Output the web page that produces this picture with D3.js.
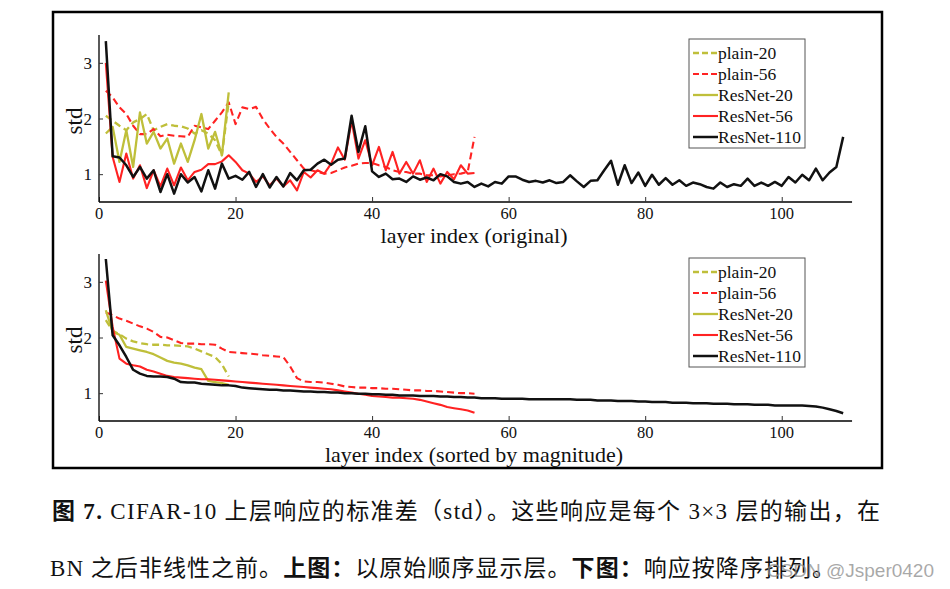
<!DOCTYPE html>
<html>
<head>
<meta charset="utf-8">
<script src="https://cdn.jsdelivr.net/npm/d3@7"></script>
<style>
  body { margin: 0; background: #fff; }
  svg { display: block; }
  text { font-family: "Liberation Serif", "Noto Sans CJK SC", serif; fill: #111; }
</style>
</head>
<body>
<svg id="chart" width="950" height="589"></svg>
<script>
// series names, in legend order
var seriesNames = ["plain-20", "plain-56", "ResNet-20", "ResNet-56", "ResNet-110"];
var xTicks = [0, 20, 40, 60, 80, 100];
var yTicks = [1, 2, 3];

// top panel: std per layer, original order
var plain20 = [2.05, 1.96, 1.87, 1.79, 1.93, 1.99, 2.08, 1.79, 1.85, 1.90, 1.87, 1.86, 1.82, 1.73, 1.79, 1.73, 1.61, 1.34, 2.30];
var resnet20 = [1.73, 1.85, 1.22, 1.79, 1.13, 2.11, 1.55, 1.76, 1.46, 1.64, 1.19, 1.55, 1.22, 1.61, 2.08, 1.46, 1.76, 1.34, 2.47];
var plain56 = [2.50, 2.38, 2.20, 2.08, 1.87, 1.72, 1.72, 1.81, 1.68, 1.71, 1.69, 1.68, 1.67, 1.87, 1.84, 1.81, 1.96, 2.11, 2.29, 1.90,
  2.20, 2.17, 2.21, 1.99, 1.82, 1.67, 1.55, 1.40, 1.25, 1.10, 1.07, 1.04, 1.01, 1.02, 1.07, 1.12, 1.15, 1.19, 1.20, 1.20,
  1.16, 1.13, 1.07, 1.04, 1.04, 1.01, 1.01, 0.98, 0.98, 0.96, 0.98, 1.00, 1.01, 1.04, 1.67];
var resnet56 = [3.00, 1.31, 0.86, 1.37, 0.92, 1.16, 0.75, 1.07, 0.78, 1.10, 0.80, 1.12, 0.89, 1.04, 1.08, 1.18, 1.18, 1.23, 1.34, 1.22,
  1.07, 1.01, 0.86, 0.96, 0.80, 0.92, 0.78, 0.89, 0.71, 1.04, 0.94, 1.07, 1.01, 1.19, 1.48, 1.26, 1.96, 1.28, 1.61, 1.16,
  1.49, 1.07, 1.40, 1.01, 1.22, 1.01, 1.25, 0.86, 1.10, 0.83, 1.04, 0.91, 1.16, 1.01, 1.02];
var resnet110 = [3.39, 1.32, 1.30, 1.16, 0.95, 1.13, 0.92, 1.07, 0.68, 1.00, 0.65, 1.00, 0.85, 0.95, 0.69, 1.07, 0.74, 1.19, 0.92, 0.97,
  0.90, 1.04, 0.77, 1.00, 0.76, 0.95, 0.78, 1.02, 0.89, 1.07, 1.08, 1.19, 1.26, 1.17, 1.26, 1.28, 2.05, 1.40, 1.86, 1.05,
  0.95, 1.01, 0.91, 0.92, 0.86, 0.96, 0.90, 0.94, 0.89, 1.00, 0.96, 0.86, 0.83, 0.86, 0.77, 0.83, 0.78, 0.86, 0.83, 0.96,
  0.96, 0.90, 0.86, 0.88, 0.85, 0.89, 0.84, 0.86, 0.98, 0.87, 0.77, 0.88, 0.89, 1.07, 1.24, 0.81, 1.16, 0.84, 1.03, 0.79,
  0.99, 0.81, 0.93, 0.81, 0.89, 0.79, 0.85, 0.82, 0.77, 0.74, 0.85, 0.77, 0.82, 0.79, 0.92, 0.79, 0.85, 0.79, 0.86, 0.79,
  0.95, 0.85, 0.99, 0.89, 1.10, 0.89, 1.03, 1.13, 1.67];

// bottom panel: std sorted by magnitude
var plain20Sorted = [2.31, 2.12, 2.06, 1.98, 1.93, 1.90, 1.88, 1.87, 1.87, 1.86, 1.86, 1.85, 1.84, 1.80, 1.75, 1.70, 1.65, 1.52, 1.30];
var resnet20Sorted = [2.49, 2.10, 2.05, 1.83, 1.80, 1.77, 1.74, 1.70, 1.64, 1.58, 1.55, 1.53, 1.50, 1.46, 1.43, 1.22, 1.20, 1.18, 1.15];
var plain56Sorted = [2.45, 2.40, 2.34, 2.30, 2.25, 2.20, 2.16, 2.10, 2.01, 2.00, 1.95, 1.90, 1.89, 1.89, 1.88, 1.88, 1.87, 1.80, 1.74, 1.73,
  1.72, 1.71, 1.70, 1.68, 1.67, 1.66, 1.65, 1.48, 1.27, 1.21, 1.20, 1.20, 1.19, 1.17, 1.15, 1.12, 1.11, 1.10, 1.10, 1.09,
  1.09, 1.08, 1.08, 1.07, 1.06, 1.05, 1.05, 1.04, 1.04, 1.03, 1.02, 1.01, 1.00, 1.00, 0.99];
var resnet56Sorted = [3.02, 2.19, 1.62, 1.53, 1.50, 1.48, 1.42, 1.39, 1.35, 1.31, 1.29, 1.28, 1.27, 1.26, 1.25, 1.25, 1.24, 1.23, 1.22, 1.21,
  1.20, 1.19, 1.18, 1.17, 1.16, 1.15, 1.14, 1.13, 1.12, 1.11, 1.10, 1.09, 1.08, 1.07, 1.05, 1.03, 1.01, 0.99, 0.97, 0.95,
  0.94, 0.93, 0.92, 0.92, 0.91, 0.90, 0.88, 0.85, 0.82, 0.79, 0.75, 0.73, 0.71, 0.69, 0.65];
var resnet110Sorted = [3.41, 2.04, 1.86, 1.65, 1.42, 1.35, 1.31, 1.30, 1.30, 1.29, 1.26, 1.20, 1.19, 1.19, 1.17, 1.16, 1.15, 1.14, 1.14, 1.13,
  1.10, 1.09, 1.08, 1.07, 1.06, 1.06, 1.05, 1.05, 1.04, 1.03, 1.03, 1.02, 1.02, 1.01, 1.01, 1.00, 1.00, 0.99, 0.99, 0.98,
  0.98, 0.97, 0.97, 0.96, 0.96, 0.96, 0.95, 0.95, 0.95, 0.94, 0.94, 0.93, 0.93, 0.92, 0.92, 0.91, 0.91, 0.91, 0.90, 0.90,
  0.90, 0.90, 0.89, 0.89, 0.89, 0.89, 0.89, 0.89, 0.89, 0.88, 0.88, 0.88, 0.87, 0.87, 0.87, 0.86, 0.86, 0.86, 0.85, 0.85,
  0.84, 0.84, 0.84, 0.83, 0.83, 0.83, 0.82, 0.82, 0.82, 0.81, 0.81, 0.81, 0.80, 0.80, 0.80, 0.79, 0.79, 0.79, 0.78, 0.78,
  0.78, 0.78, 0.78, 0.77, 0.76, 0.74, 0.71, 0.68, 0.64];

var olive = "#bfbf3a", red = "#ff2222", black = "#111";
var styles = {
  "plain-20": {color: olive, dash: "7,4", width: 2.3},
  "plain-56": {color: red, dash: "7,4", width: 2.1},
  "ResNet-20": {color: olive, dash: null, width: 2.3},
  "ResNet-56": {color: red, dash: null, width: 2.1},
  "ResNet-110": {color: black, dash: null, width: 2.5}
};

var svg = d3.select("#chart");

// outer frame
svg.append("rect")
  .attr("x", 53).attr("y", 12).attr("width", 829).attr("height", 456)
  .attr("fill", "none").attr("stroke", "#000").attr("stroke-width", 2.5);

function drawPanel(top, title, data) {
  var x = d3.scaleLinear().domain([0, 110]).range([99, 850]);
  var y = d3.scaleLinear().domain([0.5, 3.5]).range([top + 167, top]);
  var g = svg.append("g");

  var xAxis = g.append("g").attr("transform", "translate(0," + y(0.5) + ")")
    .call(d3.axisTop(x).tickValues(xTicks).tickSize(5).tickFormat(""));
  xAxis.select(".domain").attr("d", "M" + x(0) + ",0H" + x(110.3)).attr("stroke-width", 1.3);
  xAxis.selectAll(".tick line").attr("stroke-width", 1).attr("stroke", "#333");
  g.selectAll(".xlab").data(xTicks).enter().append("text")
    .attr("x", function(d) { return x(d); })
    .attr("y", y(0.5) + 16.5)
    .attr("text-anchor", "middle").style("font-size", "16.5px")
    .text(function(d) { return d; });

  var yAxis = g.append("g").attr("transform", "translate(" + x(0) + ",0)")
    .call(d3.axisRight(y).tickValues(yTicks).tickSize(4).tickFormat(""));
  yAxis.select(".domain").attr("d", "M0," + y(0.5) + "V" + y(3.5)).attr("stroke-width", 1.3);
  yAxis.selectAll(".tick line").attr("stroke", "#333");
  g.selectAll(".ylab").data(yTicks).enter().append("text")
    .attr("x", x(0) - 7)
    .attr("y", function(d) { return y(d) + 6; })
    .attr("text-anchor", "end").style("font-size", "17px")
    .text(function(d) { return d; });

  g.append("text")
    .attr("transform", "translate(82," + (top + 86) + ") rotate(-90)")
    .attr("text-anchor", "middle").style("font-size", "23px")
    .text("std");

  g.append("text")
    .attr("x", 474).attr("y", y(0.5) + 40.5)
    .attr("text-anchor", "middle").style("font-size", "22px")
    .text(title);

  var line = d3.line()
    .x(function(d, i) { return x(i + 1); })
    .y(function(d) { return y(d); });

  seriesNames.forEach(function(name) {
    var s = styles[name];
    g.append("path")
      .datum(data[name])
      .attr("fill", "none")
      .attr("stroke", s.color)
      .attr("stroke-width", s.width)
      .attr("stroke-dasharray", s.dash)
      .attr("stroke-linejoin", "round")
      .attr("d", line);
  });

  // legend
  var lg = g.append("g").attr("transform", "translate(689," + (top + 4) + ")");
  lg.append("rect").attr("width", 116).attr("height", 109)
    .attr("fill", "#fff").attr("stroke", "#555").attr("stroke-width", 1);
  seriesNames.forEach(function(name, i) {
    var s = styles[name];
    var ly = 14 + i * 21;
    lg.append("line")
      .attr("x1", 4).attr("x2", 29).attr("y1", ly).attr("y2", ly)
      .attr("stroke", s.color).attr("stroke-width", s.width)
      .attr("stroke-dasharray", s.dash ? "6,3" : null);
    lg.append("text").attr("x", 29).attr("y", ly + 5.5)
      .style("font-size", "17.5px").text(name);
  });
}

drawPanel(35, "layer index (original)", {
  "plain-20": plain20, "plain-56": plain56, "ResNet-20": resnet20,
  "ResNet-56": resnet56, "ResNet-110": resnet110
});
drawPanel(254, "layer index (sorted by magnitude)", {
  "plain-20": plain20Sorted, "plain-56": plain56Sorted, "ResNet-20": resnet20Sorted,
  "ResNet-56": resnet56Sorted, "ResNet-110": resnet110Sorted
});

// caption
var cap1 = svg.append("text").attr("x", 52).attr("y", 519)
  .attr("textLength", 828).attr("lengthAdjust", "spacing")
  .style("font-size", "23px");
cap1.append("tspan").style("font-weight", "bold").text("图 7.");
cap1.append("tspan").text(" CIFAR-10 上层响应的标准差（std）。这些响应是每个 3×3 层的输出，在");

var cap2 = svg.append("text").attr("x", 50).attr("y", 576)
  .attr("textLength", 785).attr("lengthAdjust", "spacing")
  .style("font-size", "23px");
cap2.append("tspan").text("BN 之后非线性之前。");
cap2.append("tspan").style("font-weight", "bold").text("上图：");
cap2.append("tspan").text("以原始顺序显示层。");
cap2.append("tspan").style("font-weight", "bold").text("下图：");
cap2.append("tspan").text("响应按降序排列。");

// watermark sits on top of the caption end, as in the source image
svg.append("text").attr("x", 934).attr("y", 577)
  .attr("text-anchor", "end")
  .style("font-family", "'Liberation Sans', sans-serif")
  .style("font-size", "19px").style("fill", "rgba(140,140,140,0.75)")
  .text("CSDN @Jsper0420");
</script>
</body>
</html>
